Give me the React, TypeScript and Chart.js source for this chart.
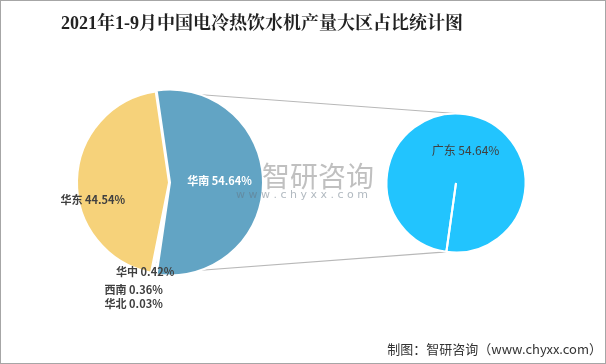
import React, { useEffect, useRef } from "react";
import { Chart, registerables } from "chart.js";

Chart.register(...registerables);

// ---- data ----
const regionLabels = ["华南", "华中", "西南", "华北", "华东"];
const regionShares = [54.64, 0.42, 0.36, 0.03, 44.54];
const regionColors = ["#62A4C4", "#A5A5A5", "#5B9BD5", "#70AD47", "#F6D27A"];

const provinceLabels = ["广东", "其他"];
const provinceShares = [54.64, 0.01];
const provinceColors = ["#22C4FE", "#22C4FE"];

const titleText = "2021年1-9月中国电冷热饮水机产量大区占比统计图";
const sourceText = "制图：智研咨询（www.chyxx.com）";
const watermarkMain = "智研咨询";
const watermarkSub = "w w w . c h y x x . c o m";

// label layout (offset from pie centre in radius units, alignment, colour)
const regionLabelLayout: [number, number, CanvasTextAlign, string][] = [
  [0.55, -0.02, "center", "#ffffff"],
  [-0.575, 0.975, "left", "#404040"],
  [-0.7, 1.17, "left", "#404040"],
  [-0.7, 1.315, "left", "#404040"],
  [-1.18, 0.185, "left", "#404040"],
];
const provinceLabelLayout: [number, number, CanvasTextAlign, string][] = [
  [0.137, -0.475, "center", "#404040"],
];

const W = 606;
const H = 364;
const LEFT_LABEL_FONT = 'bold 11px "Noto Sans CJK SC", "Noto Sans", sans-serif';
const RIGHT_LABEL_FONT = '12px "Noto Sans CJK SC", "Noto Sans", sans-serif';

function fmt(v: number) {
  return v.toFixed(2) + "%";
}

export default function App() {
  const leftRef = useRef<HTMLCanvasElement | null>(null);
  const rightRef = useRef<HTMLCanvasElement | null>(null);

  useEffect(() => {
    if (!leftRef.current || !rightRef.current) return;

    const rightDecor = {
      id: "rightDecor",
      afterDatasetsDraw(chart: any) {
        const ctx = chart.ctx as CanvasRenderingContext2D;
        const meta = chart.getDatasetMeta(0);
        ctx.save();
        ctx.font = RIGHT_LABEL_FONT;
        ctx.textBaseline = "middle";
        provinceLabelLayout.forEach((lay, i) => {
          const arc: any = meta.data[i];
          if (!arc) return;
          const r = arc.outerRadius;
          ctx.fillStyle = lay[3];
          ctx.textAlign = lay[2];
          ctx.fillText(
            provinceLabels[i] + " " + fmt(provinceShares[i]),
            arc.x + lay[0] * r,
            arc.y + lay[1] * r
          );
        });
        ctx.restore();
      },
      afterDraw(chart: any) {
        const ctx = chart.ctx as CanvasRenderingContext2D;
        ctx.save();
        // watermark
        ctx.textBaseline = "middle";
        ctx.textAlign = "center";
        ctx.fillStyle = "rgba(140,140,140,0.55)";
        ctx.font = '28px "Noto Sans CJK SC", sans-serif';
        ctx.fillText(watermarkMain, 318, 176);
        ctx.fillStyle = "rgba(100,115,130,0.5)";
        ctx.font = '11px "DejaVu Sans", sans-serif';
        ctx.fillText(watermarkSub, 302, 195);
        // title
        ctx.fillStyle = "#222222";
        ctx.font = 'bold 18px "Liberation Serif", "Noto Serif CJK SC", "Noto Sans CJK SC", serif';
        ctx.textAlign = "center";
        ctx.fillText(titleText, 262, 24);
        // source
        ctx.fillStyle = "#333333";
        ctx.font = '13px "Noto Sans CJK SC", sans-serif';
        ctx.textAlign = "right";
        ctx.fillText(sourceText, 602, 349);
        // frame
        ctx.strokeStyle = "#a6a6a6";
        ctx.lineWidth = 1;
        ctx.strokeRect(0.5, 0.5, W - 1, H - 1);
        ctx.restore();
      },
    };

    const rightChart = new Chart(rightRef.current, {
      type: "pie",
      data: {
        labels: provinceLabels,
        datasets: [
          {
            data: provinceShares,
            backgroundColor: provinceColors,
            borderColor: "#ffffff",
            borderWidth: 2,
          },
        ],
      },
      options: {
        animation: false,
        responsive: false,
        maintainAspectRatio: false,
        rotation: 188,
        radius: 69.5,
        layout: { padding: { left: 306, right: 0, top: 2, bottom: 0 } },
        plugins: { legend: { display: false }, tooltip: { enabled: false } },
        events: [],
      },
      plugins: [rightDecor],
    });

    const leftDecor = {
      id: "leftDecor",
      beforeDatasetsDraw(chart: any) {
        const ctx = chart.ctx as CanvasRenderingContext2D;
        const arc: any = chart.getDatasetMeta(0).data[0];
        const rArc: any = rightChart.getDatasetMeta(0).data[0];
        if (!arc || !rArc) return;
        const off = (arc.options.offset || 0) / 4;
        const circ = arc.endAngle - arc.startAngle;
        const fix = 1 - Math.sin(Math.min(Math.PI, circ));
        const half = (arc.startAngle + arc.endAngle) / 2;
        const sh = off * (1 + fix);
        const bx = arc.x + Math.cos(half) * sh;
        const by = arc.y + Math.sin(half) * sh;
        const r = arc.outerRadius;
        const p1 = [bx + r * Math.cos(arc.startAngle), by + r * Math.sin(arc.startAngle)];
        const p2 = [bx + r * Math.cos(arc.endAngle), by + r * Math.sin(arc.endAngle)];
        const rr = rArc.outerRadius;
        const q1 = [rArc.x, rArc.y - rr];
        const q2 = [rArc.x + rr * Math.cos(rArc.startAngle), rArc.y + rr * Math.sin(rArc.startAngle)];
        ctx.save();
        ctx.strokeStyle = "#b8b8b8";
        ctx.lineWidth = 1.2;
        ctx.beginPath();
        ctx.moveTo(p1[0], p1[1]);
        ctx.lineTo(q1[0], q1[1]);
        ctx.moveTo(p2[0], p2[1]);
        ctx.lineTo(q2[0], q2[1]);
        ctx.stroke();
        ctx.restore();
      },
      afterDatasetsDraw(chart: any) {
        const ctx = chart.ctx as CanvasRenderingContext2D;
        const meta = chart.getDatasetMeta(0);
        ctx.save();
        ctx.font = LEFT_LABEL_FONT;
        ctx.textBaseline = "middle";
        regionLabelLayout.forEach((lay, i) => {
          const arc: any = meta.data[i];
          if (!arc) return;
          const r = arc.outerRadius;
          ctx.fillStyle = lay[3];
          ctx.textAlign = lay[2];
          ctx.fillText(
            regionLabels[i] + " " + fmt(regionShares[i]),
            arc.x + lay[0] * r,
            arc.y + lay[1] * r
          );
        });
        ctx.restore();
      },
    };

    const leftChart = new Chart(leftRef.current, {
      type: "pie",
      data: {
        labels: regionLabels,
        datasets: [
          {
            data: regionShares,
            backgroundColor: regionColors,
            borderColor: "#ffffff",
            borderWidth: 2,
            offset: [4, 0, 0, 0, 0],
          },
        ],
      },
      options: {
        animation: false,
        responsive: false,
        maintainAspectRatio: false,
        rotation: -8.35,
        radius: 92,
        layout: { padding: { left: 0, right: W - 338, top: 1, bottom: 0 } },
        plugins: { legend: { display: false }, tooltip: { enabled: false } },
        events: [],
      },
      plugins: [leftDecor],
    });

    return () => {
      leftChart.destroy();
      rightChart.destroy();
    };
  }, []);

  const canvasStyle: React.CSSProperties = {
    position: "absolute",
    left: 0,
    top: 0,
    width: W,
    height: H,
  };

  return (
    <div
      style={{
        position: "fixed",
        left: 0,
        top: 0,
        width: W,
        height: H,
        background: "#ffffff",
        overflow: "hidden",
      }}
    >
      <canvas ref={leftRef} width={W} height={H} style={canvasStyle} />
      <canvas ref={rightRef} width={W} height={H} style={canvasStyle} />
    </div>
  );
}
